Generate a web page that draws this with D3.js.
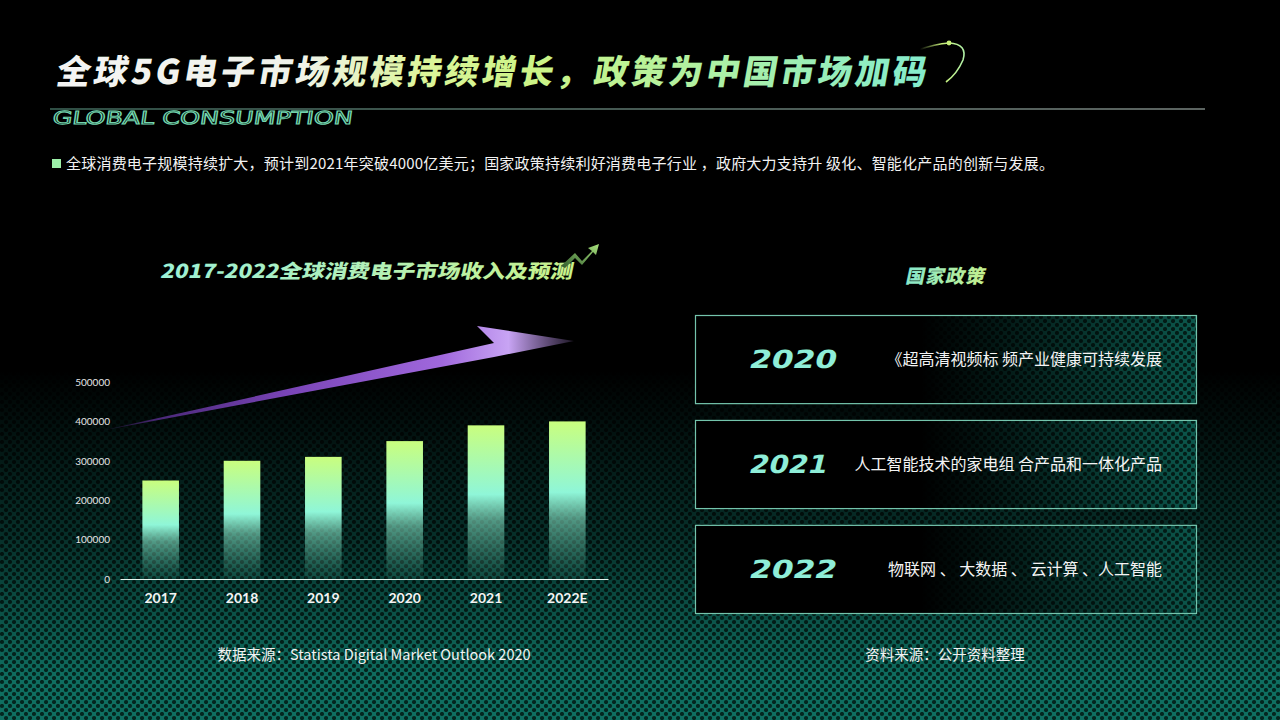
<!DOCTYPE html>
<html>
<head>
<meta charset="utf-8">
<script src="https://cdn.jsdelivr.net/npm/d3@7"></script>
<style>
  html, body { margin: 0; padding: 0; background: #000; }
  svg { display: block; }
</style>
</head>
<body>
<div id="root"></div>
<script>
// chart data
const years = ['2017', '2018', '2019', '2020', '2021', '2022E'];
const revenue = [250000, 300000, 310000, 350000, 390000, 400000];
const yTicks = [0, 100000, 200000, 300000, 400000, 500000];

// policy panel
const policyYears = ['2020', '2021', '2022'];
const policyTexts = [
  '《超高清视频标 频产业健康可持续发展',
  '人工智能技术的家电组 合产品和一体化产品',
  '物联网 、 大数据 、 云计算 、人工智能'
];

const W = 1280, H = 720;
const CJK = '"Noto Sans CJK SC", "Noto Sans", sans-serif';

const svg = d3.select('#root').append('svg')
  .attr('width', W).attr('height', H);
const defs = svg.append('defs');

// dotted teal texture
const pat = defs.append('pattern').attr('id', 'mesh')
  .attr('patternUnits', 'userSpaceOnUse').attr('width', 8).attr('height', 8);
pat.append('rect').attr('width', 8).attr('height', 8).attr('fill', '#0f6f61');
pat.append('circle').attr('cx', 2).attr('cy', 2).attr('r', 2.1).attr('fill', '#03261f');
pat.append('circle').attr('cx', 6).attr('cy', 6).attr('r', 2.1).attr('fill', '#03261f');

// vertical fade for background texture
const bgFade = defs.append('linearGradient').attr('id', 'bgFade')
  .attr('gradientUnits', 'userSpaceOnUse').attr('x1', 0).attr('y1', 370).attr('x2', 0).attr('y2', 680);
bgFade.append('stop').attr('offset', 0).attr('stop-color', '#000');
bgFade.append('stop').attr('offset', 0.55).attr('stop-color', '#707070');
bgFade.append('stop').attr('offset', 1).attr('stop-color', '#fff');
defs.append('mask').attr('id', 'bgMask')
  .append('rect').attr('width', W).attr('height', H).attr('fill', 'url(#bgFade)');

svg.append('rect').attr('width', W).attr('height', H).attr('fill', '#000');
svg.append('rect').attr('width', W).attr('height', H).attr('fill', 'url(#mesh)').attr('mask', 'url(#bgMask)');

// gradients for headings
function hGrad(id, stops, x1, x2) {
  const g = defs.append('linearGradient').attr('id', id)
    .attr('gradientUnits', 'userSpaceOnUse').attr('x1', x1).attr('y1', 0).attr('x2', x2).attr('y2', 0);
  stops.forEach(s => g.append('stop').attr('offset', s[0]).attr('stop-color', s[1]));
}
hGrad('titleGrad', [[0, '#f4f4f4'], [0.28, '#f0f2ea'], [0.42, '#dcf59a'], [0.55, '#ccf486'], [0.78, '#aaf0a8'], [1, '#84eccd']], 55, 925);
hGrad('chartTitleGrad', [[0, '#9cf0d6'], [0.5, '#b2f0b8'], [1, '#c8f28a']], 160, 572);
hGrad('policyTitleGrad', [[0, '#86e8cc'], [1, '#c8f08a']], 904, 987);

// main title
svg.append('text')
  .attr('x', 55).attr('y', 84)
  .attr('transform', 'skewX(-10)').attr('transform-origin', '55 84')
  .attr('font-family', CJK).attr('font-weight', 900).attr('font-size', 34)
  .attr('textLength', 870).attr('lengthAdjust', 'spacing')
  .attr('fill', 'url(#titleGrad)')
  .text('全球5G电子市场规模持续增长，政策为中国市场加码');

// small swoosh next to title
const swGrad = defs.append('linearGradient').attr('id', 'swGrad')
  .attr('gradientUnits', 'userSpaceOnUse').attr('x1', 920).attr('y1', 0).attr('x2', 965).attr('y2', 0);
swGrad.append('stop').attr('offset', 0).attr('stop-color', '#c8f07a').attr('stop-opacity', 0);
swGrad.append('stop').attr('offset', 0.5).attr('stop-color', '#c8f07a');
swGrad.append('stop').attr('offset', 1).attr('stop-color', '#b0f0a8');
svg.append('path')
  .attr('d', 'M918,50 Q935,44 949,43 Q968,44 963,60 Q957,74 946,82')
  .attr('fill', 'none').attr('stroke', 'url(#swGrad)').attr('stroke-width', 1.6);
svg.append('circle').attr('cx', 949).attr('cy', 43).attr('r', 2.4).attr('fill', '#c8f07a');

// divider line
const lineGrad = defs.append('linearGradient').attr('id', 'lineGrad')
  .attr('gradientUnits', 'userSpaceOnUse').attr('x1', 50).attr('y1', 0).attr('x2', 1205).attr('y2', 0);
lineGrad.append('stop').attr('offset', 0).attr('stop-color', '#5e9c88');
lineGrad.append('stop').attr('offset', 1).attr('stop-color', '#b8c8c2');
svg.append('rect').attr('x', 50).attr('y', 108.5).attr('width', 1155).attr('height', 1)
  .attr('fill', 'url(#lineGrad)');

svg.append('text')
  .attr('x', 52).attr('y', 124)
  .attr('transform', 'skewX(-8)').attr('transform-origin', '52 124')
  .attr('font-family', '"DejaVu Sans Condensed", "DejaVu Sans", sans-serif').attr('font-size', 18)
  .attr('textLength', 300).attr('lengthAdjust', 'spacingAndGlyphs')
  .attr('fill', 'none').attr('stroke', '#72d4ad').attr('stroke-width', 1)
  .text('GLOBAL CONSUMPTION');

// bullet line
svg.append('rect').attr('x', 52).attr('y', 159).attr('width', 9).attr('height', 9).attr('fill', '#9cf0a8');
svg.append('text')
  .attr('x', 66).attr('y', 169)
  .attr('font-family', CJK).attr('font-size', 15).attr('fill', '#f2f2f2')
  .attr('textLength', 988).attr('lengthAdjust', 'spacing')
  .text('全球消费电子规模持续扩大，预计到2021年突破4000亿美元；国家政策持续利好消费电子行业 ，政府大力支持升 级化、智能化产品的创新与发展。');

// ---------- bar chart ----------
const x = d3.scaleBand().domain(years).range([120, 608]).paddingInner(0.55).paddingOuter(0.275);
const y = d3.scaleLinear().domain([0, 500000]).range([579, 382]);

// chart title
svg.append('text')
  .attr('x', 160).attr('y', 278)
  .attr('transform', 'skewX(-12)').attr('transform-origin', '160 278')
  .attr('font-family', CJK).attr('font-weight', 900).attr('font-size', 19)
  .attr('textLength', 412).attr('lengthAdjust', 'spacingAndGlyphs')
  .attr('fill', 'url(#chartTitleGrad)')
  .text('2017-2022全球消费电子市场收入及预测');

// trend icon
const icoGrad = defs.append('linearGradient').attr('id', 'icoGrad')
  .attr('x1', 0).attr('y1', 1).attr('x2', 1).attr('y2', 0);
icoGrad.append('stop').attr('offset', 0).attr('stop-color', '#2f5a2c');
icoGrad.append('stop').attr('offset', 1).attr('stop-color', '#a8e27c');
svg.append('path')
  .attr('d', 'M561,266 L575,253 L582,261 L592,251 L588,248 L599,244 L596,255 L593,252 L582,265 L575,258 L565,268 Z')
  .attr('fill', 'url(#icoGrad)');

// purple arrow
const arrGrad = defs.append('linearGradient').attr('id', 'arrGrad')
  .attr('gradientUnits', 'userSpaceOnUse').attr('x1', 100).attr('y1', 0).attr('x2', 575).attr('y2', 0);
arrGrad.append('stop').attr('offset', 0).attr('stop-color', '#3a1d5c').attr('stop-opacity', 0.2);
arrGrad.append('stop').attr('offset', 0.12).attr('stop-color', '#4a2878');
arrGrad.append('stop').attr('offset', 0.4).attr('stop-color', '#7a45b8');
arrGrad.append('stop').attr('offset', 0.72).attr('stop-color', '#a068dc');
arrGrad.append('stop').attr('offset', 0.86).attr('stop-color', '#c8a4f4');
arrGrad.append('stop').attr('offset', 1).attr('stop-color', '#b890e8').attr('stop-opacity', 0.15);
svg.append('path')
  .attr('d', 'M100,431 L494,343 L477,326 L574,341 L494,357 Z')
  .attr('fill', 'url(#arrGrad)');

// bars
const barGrad = defs.append('linearGradient').attr('id', 'barGrad')
  .attr('x1', 0).attr('y1', 0).attr('x2', 0).attr('y2', 1);
barGrad.append('stop').attr('offset', 0).attr('stop-color', '#c9fe7e');
barGrad.append('stop').attr('offset', 0.45).attr('stop-color', '#8ff6d8');
barGrad.append('stop').attr('offset', 0.62).attr('stop-color', '#8ff0d0').attr('stop-opacity', 0.55);
barGrad.append('stop').attr('offset', 1).attr('stop-color', '#6ad8b8').attr('stop-opacity', 0.05);

svg.append('g').selectAll('rect').data(revenue).join('rect')
  .attr('x', (d, i) => x(years[i]))
  .attr('y', d => y(d))
  .attr('width', x.bandwidth())
  .attr('height', d => y(0) - y(d))
  .attr('fill', 'url(#barGrad)');

// axes
const yAxis = svg.append('g').attr('transform', 'translate(118,0)')
  .call(d3.axisLeft(y).tickValues(yTicks).tickSize(0).tickPadding(8).tickFormat(d3.format('d')));
yAxis.select('.domain').remove();
yAxis.selectAll('text')
  .attr('font-family', '"Lato", "Open Sans", sans-serif').attr('font-size', 10).attr('fill', '#e6e6e6');

const xAxis = svg.append('g').attr('transform', `translate(0,${y(0)})`)
  .call(d3.axisBottom(x).tickSize(0).tickPadding(14).tickSizeOuter(0));
xAxis.select('.domain').attr('stroke', '#e8f4f0').attr('stroke-width', 1.2);
xAxis.selectAll('text')
  .attr('font-family', '"Lato", "Open Sans", sans-serif').attr('font-weight', 'bold')
  .attr('font-size', 14).attr('fill', '#f4f4f4');

svg.append('text')
  .attr('x', 374).attr('y', 660).attr('text-anchor', 'middle')
  .attr('font-family', CJK).attr('font-size', 14.5).attr('fill', '#f2f2f2')
  .text('数据来源：Statista Digital Market Outlook 2020');

// ---------- policy panel ----------
svg.append('text')
  .attr('x', 945).attr('y', 283).attr('text-anchor', 'middle')
  .attr('transform', 'skewX(-12)').attr('transform-origin', '945 283')
  .attr('font-family', CJK).attr('font-weight', 900).attr('font-size', 19)
  .attr('letter-spacing', 1)
  .attr('fill', 'url(#policyTitleGrad)')
  .text('国家政策');

const boxFade = defs.append('linearGradient').attr('id', 'boxFade')
  .attr('x1', 0).attr('y1', 0).attr('x2', 1).attr('y2', 0);
boxFade.append('stop').attr('offset', 0.45).attr('stop-color', '#000');
boxFade.append('stop').attr('offset', 1).attr('stop-color', '#c8c8c8');
defs.append('mask').attr('id', 'boxMask').attr('maskContentUnits', 'objectBoundingBox')
  .append('rect').attr('width', 1).attr('height', 1).attr('fill', 'url(#boxFade)');

hGrad('yrGrad', [[0, '#8eeed8'], [1, '#c8f48a']], 748, 835);

const boxY = d3.scaleBand().domain(policyYears).range([315, 613]).paddingInner(0.16);
const box = svg.append('g').selectAll('g').data(policyYears).join('g')
  .attr('transform', d => `translate(695,${boxY(d)})`);
box.append('rect').attr('width', 501).attr('height', boxY.bandwidth()).attr('fill', '#000');
box.append('rect').attr('width', 501).attr('height', boxY.bandwidth())
  .attr('fill', 'url(#mesh)').attr('mask', 'url(#boxMask)');
box.append('rect').attr('x', 0.5).attr('y', 0.5).attr('width', 501).attr('height', boxY.bandwidth())
  .attr('fill', 'none').attr('stroke', '#74c4ac').attr('stroke-width', 1.2);
box.append('text')
  .attr('x', 53).attr('y', boxY.bandwidth() / 2 + 9)
  .attr('transform', 'skewX(-14)').attr('transform-origin', `53 ${boxY.bandwidth() / 2 + 9}`)
  .attr('font-family', '"DejaVu Sans", sans-serif').attr('font-weight', 'bold').attr('font-size', 25)
  .attr('textLength', (d, i) => i === 1 ? 78 : 87).attr('lengthAdjust', 'spacingAndGlyphs')
  .attr('fill', 'url(#yrGrad)')
  .text(d => d);
box.append('text')
  .attr('x', 467).attr('y', boxY.bandwidth() / 2 + 6).attr('text-anchor', 'end')
  .attr('font-family', CJK).attr('font-size', 16).attr('fill', '#f4f4f4')
  .text((d, i) => policyTexts[i]);

svg.append('text')
  .attr('x', 945).attr('y', 660).attr('text-anchor', 'middle')
  .attr('font-family', CJK).attr('font-size', 14.5).attr('fill', '#f2f2f2')
  .text('资料来源：公开资料整理');
</script>
</body>
</html>
